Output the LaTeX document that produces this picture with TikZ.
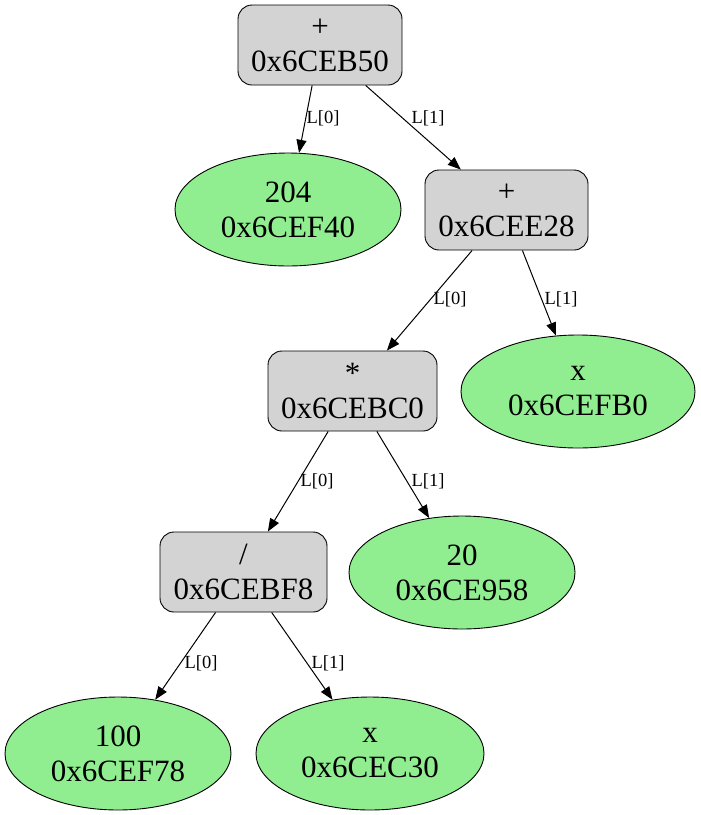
\documentclass[tikz,border=0pt]{standalone}
\usepackage{fontspec}
\setmainfont{Liberation Serif}
\usetikzlibrary{shapes.geometric,arrows.meta}
\definecolor{boxgray}{RGB}{211,211,211}
\definecolor{leafgreen}{RGB}{144,238,144}
\begin{document}
\begin{tikzpicture}[x=1pt,y=-1pt,
  box/.style={draw, line width=0.9pt, fill=boxgray, rounded corners=14pt, align=center,
    inner sep=0pt, minimum height=80pt, font=\fontsize{31}{35}\selectfont},
  leaf/.style={ellipse, draw, line width=0.9pt, fill=leafgreen, minimum width=226pt,
    minimum height=113pt, inner sep=0pt, align=center, font=\fontsize{31}{35}\selectfont},
  edge/.style={-{Triangle[length=13pt,width=10pt]}, line width=1pt},
  lbl/.style={font=\fontsize{18.5}{20}\selectfont, inner sep=0pt}]
\useasboundingbox (0,0) rectangle (701,815);
\node[box, minimum width=164pt] (n1) at (320,45) {+\\0x6CEB50};
\node[leaf] (n2) at (288,209.5) {204\\0x6CEF40};
\node[box, minimum width=163pt] (n3) at (506.5,210) {+\\0x6CEE28};
\node[box, minimum width=169pt] (n4) at (352.5,391) {*\\0x6CEBC0};
\node[leaf, minimum width=234pt] (n5) at (578,391.5) {x\\0x6CEFB0};
\node[box, minimum width=167pt] (n6) at (243.5,572) {/\\0x6CEBF8};
\node[leaf] (n7) at (462,572.5) {20\\0x6CE958};
\node[leaf] (n8) at (118,753.5) {100\\0x6CEF78};
\node[leaf, minimum width=228pt] (n9) at (370,753.5) {x\\0x6CEC30};
\draw[edge] (n1) -- (n2);
\draw[edge] (n1) -- (n3);
\draw[edge] (n3) -- (n4);
\draw[edge] (n3) -- (n5);
\draw[edge] (n4) -- (n6);
\draw[edge] (n4) -- (n7);
\draw[edge] (n6) -- (n8);
\draw[edge] (n6) -- (n9);
\node[lbl] (l12) at (323,118) {L[0]};
\node[lbl] (l13) at (428,118) {L[1]};
\node[lbl] (l34) at (450,299) {L[0]};
\node[lbl] (l35) at (561,299) {L[1]};
\node[lbl] (l46) at (317,481) {L[0]};
\node[lbl] (l47) at (428,481) {L[1]};
\node[lbl] (l68) at (201,663) {L[0]};
\node[lbl] (l69) at (328,663) {L[1]};
\end{tikzpicture}
\end{document}
